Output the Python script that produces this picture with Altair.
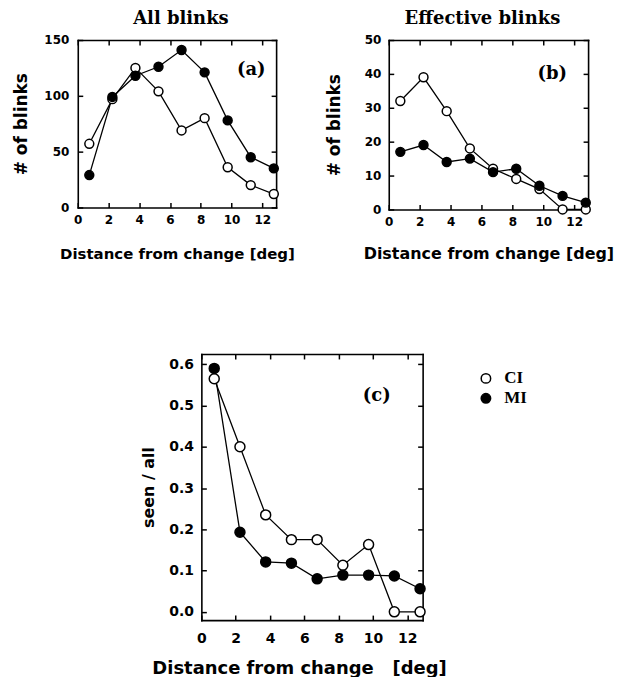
import altair as alt
import pandas as pd

# ---- data ----
X = [0.75, 2.25, 3.75, 5.25, 6.75, 8.25, 9.75, 11.25, 12.75]
SERIES = ["CI", "MI"]
A_CI = [57, 97, 125, 104, 69, 80, 36, 20, 12]
A_MI = [29, 99, 118, 126, 141, 121, 78, 45, 35]
B_CI = [32, 39, 29, 18, 12, 9, 6, 0, 0]
B_MI = [17, 19, 14, 15, 11, 12, 7, 4, 2]
C_CI = [0.565, 0.40, 0.235, 0.175, 0.175, 0.113, 0.163, 0.0, 0.0]
C_MI = [0.59, 0.193, 0.121, 0.118, 0.08, 0.089, 0.089, 0.087, 0.056]

X_TICKS = [0, 2, 4, 6, 8, 10, 12]
A_YTICKS = [0, 50, 100, 150]
B_YTICKS = [0, 10, 20, 30, 40, 50]
C_YTICKS = [0.0, 0.1, 0.2, 0.3, 0.4, 0.5, 0.6]

SANS = "DejaVu Sans"
SERIF = "Liberation Serif"
TSERIF = "DejaVu Serif"

LEGEND = alt.Legend(
    orient="none", legendX=401, legendY=331, title=None,
    labelFont=SERIF, labelFontSize=17, labelFontWeight="bold", labelColor="black",
    symbolType="circle", symbolSize=90, symbolStrokeColor="black",
    symbolStrokeWidth=1.5, rowPadding=2, labelOffset=10, padding=0,
)
FILL_SCALE = alt.Scale(domain=SERIES, range=["white", "black"])


def label_axis(orient, values, fmt, lsize, lpad, title, tsize, tpad,
               extent=None, title_x=None):
    kw = dict(orient=orient, values=values, format=fmt, ticks=False, tickSize=0,
              domain=True, domainColor="black", domainWidth=1.6, domainCap="square",
              grid=False, labelFont=SANS, labelFontSize=lsize,
              labelFontWeight="bold", labelColor="black", labelPadding=lpad,
              labelFlush=False, labelOverlap=False, labelAngle=0,
              title=title, titleFont=SANS, titleFontSize=tsize,
              titleFontWeight="bold", titleColor="black", titlePadding=tpad)
    if extent is not None:
        kw.update(minExtent=extent, maxExtent=extent)
    if title_x is not None:
        kw.update(titleX=title_x)
    return alt.Axis(**kw)


def frame_axis(orient):
    return alt.Axis(orient=orient, labels=False, ticks=False, grid=False,
                    domain=True, domainColor="black", domainWidth=1.6,
                    domainCap="square", title=None, minExtent=0, maxExtent=0)


def tick_axis(orient, values):
    return alt.Axis(orient=orient, values=values, labels=False, domain=False,
                    grid=False, ticks=True, tickSize=5, tickWidth=1.5,
                    tickColor="black", offset=-5, title=None,
                    minExtent=0, maxExtent=0)


def text_layer(label, font, size, x, y):
    return alt.Chart(pd.DataFrame({"t": [label]})).mark_text(
        font=font, fontSize=size, fontWeight="bold", color="black",
        align="center", baseline="alphabetic").encode(
        x=alt.value(x), y=alt.value(y), text="t:N")


def panel(ci, mi, ydom, yticks, yfmt, w, h, title, tdx, ytitle, ytsize, xtitle,
          xtsize, lsize, xlpad, xtpad, ylpad, ytpad, yext, size, tag, tagx, tagy,
          xtitle_x=None):
    df = pd.DataFrame({"x": X + X, "y": ci + mi,
                       "s": [SERIES[0]] * len(X) + [SERIES[1]] * len(X)})
    xs = alt.Scale(domain=[0, 12.9], nice=False, zero=False)
    ys = alt.Scale(domain=ydom, nice=False, zero=False)
    base = alt.Chart(df)
    ci_data = base.transform_filter(alt.datum.s == SERIES[0])
    mi_data = base.transform_filter(alt.datum.s == SERIES[1])
    line_ci = ci_data.mark_line(color="black", strokeWidth=1.3).encode(
        x=alt.X("x:Q", scale=xs, axis=label_axis(
            "bottom", X_TICKS, "d", lsize, xlpad, xtitle, xtsize, xtpad,
            title_x=xtitle_x)),
        y=alt.Y("y:Q", scale=ys, axis=label_axis(
            "left", yticks, yfmt, lsize, ylpad, ytitle, ytsize, ytpad, extent=yext)),
    )
    line_mi = mi_data.mark_line(color="black", strokeWidth=1.3).encode(
        x=alt.X("x:Q", scale=xs, axis=frame_axis("top")),
        y=alt.Y("y:Q", scale=ys, axis=frame_axis("right")),
    )
    pt = dict(filled=True, stroke="black", strokeWidth=1.5, size=size, opacity=1)
    pts_ci = ci_data.mark_point(**pt).encode(
        x=alt.X("x:Q", scale=xs, axis=tick_axis("top", X_TICKS)),
        y=alt.Y("y:Q", scale=ys, axis=tick_axis("right", yticks)),
        fill=alt.Fill("s:N", scale=FILL_SCALE, legend=LEGEND),
    )
    pts_mi = mi_data.mark_point(**pt).encode(
        x=alt.X("x:Q", scale=xs, axis=tick_axis("bottom", X_TICKS)),
        y=alt.Y("y:Q", scale=ys, axis=tick_axis("left", yticks)),
        fill=alt.Fill("s:N", scale=FILL_SCALE, legend=LEGEND),
    )
    layers = [line_ci, line_mi, pts_ci, pts_mi, text_layer(tag, TSERIF, 18, tagx, tagy)]
    if title:
        layers.append(text_layer(title, TSERIF, 18, w / 2 + tdx, -16))
    return alt.layer(*layers).resolve_axis(
        x="independent", y="independent").properties(width=w, height=h)


pa = panel(A_CI, A_MI, [0, 150], A_YTICKS, "d", 199, 168, "All blinks", 4,
           "# of blinks", 17, "Distance from change [deg]", 15, 12, 7, 21, 9, 13,
           34, 80, "(a)", 174, 35)
pb = panel(B_CI, B_MI, [0, 50], B_YTICKS, "d", 200, 170, "Effective blinks", -6,
           "# of blinks", 17, "Distance from change [deg]", 16, 12, 7, 18, 8, 20,
           25, 80, "(b)", 164, 39)
pc = panel(C_CI, C_MI, [-0.02, 0.625], C_YTICKS, ".1f", 222, 267, None, 0,
           "seen / all", 16, "Distance from change\u00a0\u00a0\u00a0[deg]", 18, 14, 11, 15,
           8, 12, 33, 100, "(c)", 176, 47, xtitle_x=98)

spacer = alt.Chart(pd.DataFrame({"v": [0]})).mark_point(opacity=0).properties(
    width=43, height=10, view=alt.ViewBackground(strokeOpacity=0))

top = alt.hconcat(pa, pb, spacing=31)
bottom = alt.hconcat(spacer, pc, spacing=20)

chart = alt.vconcat(top, bottom, spacing=92).properties(
    padding={"left": 5, "top": 1, "right": 0, "bottom": 0},
    background="white",
).configure_view(strokeWidth=0)

chart.save("out.html", embed_options={"renderer": "svg", "actions": False})
